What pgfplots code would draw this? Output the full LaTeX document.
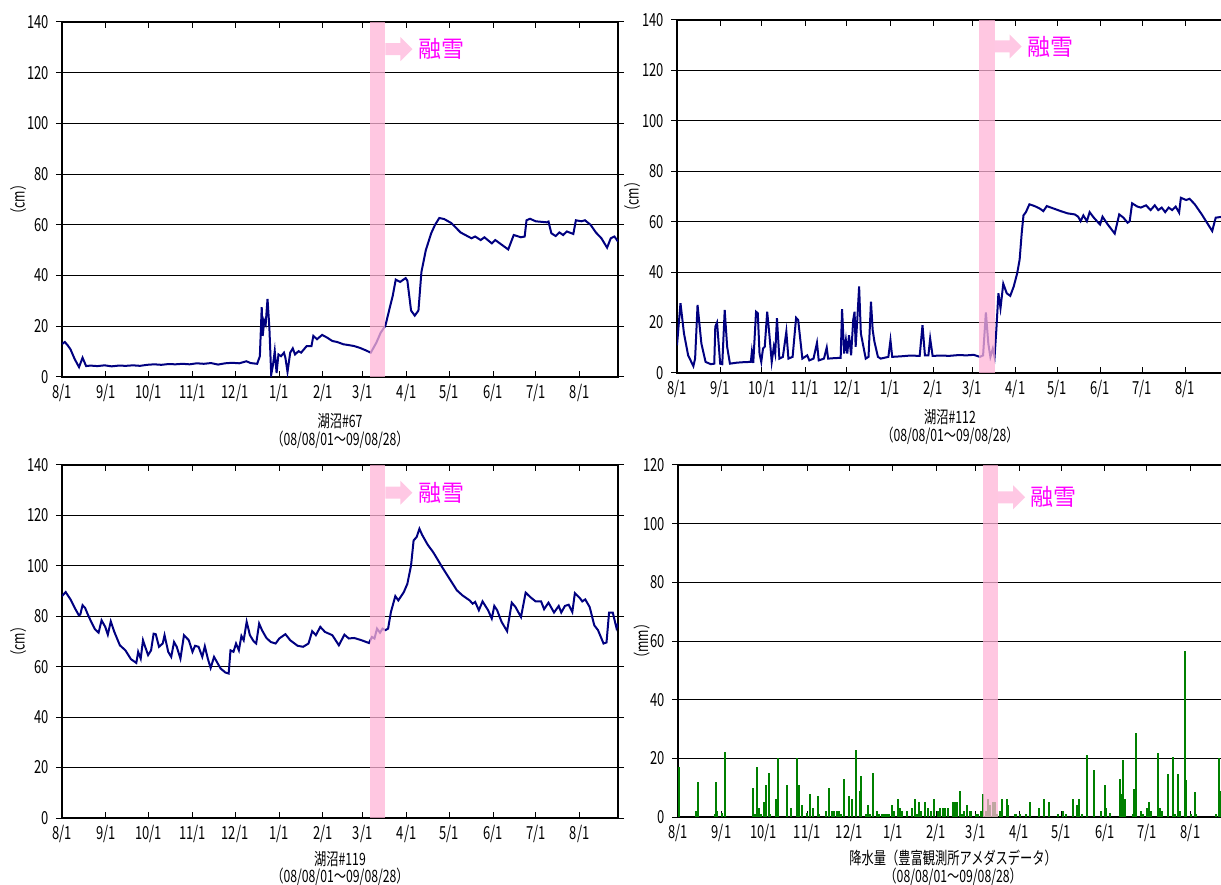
\documentclass[border=0pt]{standalone}
\usepackage{pgfplots}
\pgfplotsset{compat=1.18}
\usepackage{fontspec}
\setmainfont{Noto Sans CJK JP}
\newfontfamily\narrowjp[FakeStretch=0.72]{Noto Sans CJK JP}
\newfontfamily\jp{Noto Sans CJK JP}
\definecolor{lineblue}{RGB}{0,0,128}
\definecolor{bandpink}{RGB}{255,180,215}
\definecolor{arrowpink}{RGB}{255,200,228}
\definecolor{raingreen}{RGB}{0,128,0}
\definecolor{snowtext}{RGB}{255,0,255}

\pgfplotsset{
  panel/.style={
    scale only axis,
    xmin=0, xmax=392, ymin=0,
    xtick={0,31,61,92,122,153,184,212,243,273,304,334,365},
    xticklabels={8/1,9/1,10/1,11/1,12/1,1/1,2/1,3/1,4/1,5/1,6/1,7/1,8/1},
    ymajorgrids,
    grid style={black, line width=0.5pt},
    axis line style={black, line width=0.8pt},
    xtick align=inside, ytick align=outside,
    major tick length=3pt,
    tick style={black, line width=0.5pt},
    tick label style={font=\narrowjp\fontsize{9}{10}\selectfont},
    /pgf/number format/assume math mode=true,
    every axis y label/.style={rotate=90, anchor=center, font=\narrowjp\fontsize{8.5}{9}\selectfont},
    every axis x label/.style={at={(axis description cs:0.5,0)}, anchor=north, yshift=-14.5pt, align=center, font=\narrowjp\fontsize{8.5}{9.2}\selectfont},
  },
  lowpanel/.style={
    every axis x label/.style={at={(axis description cs:0.5,0)}, anchor=north, yshift=-13pt, align=center, font=\narrowjp\fontsize{8.5}{8.8}\selectfont},
  },
  series/.style={lineblue, line width=1pt, no marks},
  band/.style={draw=none, fill=bandpink, fill opacity=0.75, forget plot},
}

\begin{document}
\begin{tikzpicture}
\path[use as bounding box] (0,0) rectangle (610.5pt,442pt);

% ---- 湖沼#67
\begin{axis}[panel, at={(31pt,253.5pt)}, anchor=south west, width=278pt, height=177.5pt,
  ymax=140, ytick={0,20,...,140},
  ylabel={（cm）}, ylabel style={at={(axis description cs:-0.079,0.5)}},
  xlabel={湖沼\#67\\（08/08/01～09/08/28）}]
\addplot[series] coordinates {
(0,13) (2,13.8) (4,12.5) (6,10.9) (9,7) (12,3.9) (14.5,7.6) (17,4.3)
(20,4.5) (25,4.3) (30,4.6) (35,4.2) (40,4.5) (45,4.4) (50,4.6) (55,4.4)
(60,4.8) (65,5.0) (70,4.8) (75,5.1) (80,5.0) (85,5.2) (90,5.0) (95,5.4)
(100,5.2) (105,5.5) (110,4.9) (115,5.4) (120,5.6) (125,5.4) (130,6.2) (133,5.5)
(137.6,5.2) (139.5,8.2) (140.8,27.5) (141.5,16.2) (142.6,22.2) (143.6,20.8)
(144.9,30.8) (146.2,19.5) (147.5,0.9) (148.8,4.9) (150,10.2) (151.3,1.6)
(152.6,8.9) (154.4,8.2) (156.5,9.6) (157.5,7.6) (159,2.0) (160.9,9.6)
(162.7,11.3) (164.3,8.9) (166.8,10.2) (168.6,9.6) (172.5,12.2) (175.9,12.2)
(177.2,16.2) (179.8,14.9) (183.4,16.6) (187,15.5) (190.6,14.2) (194,13.8)
(198.4,12.9) (202,12.6) (206,12.2) (210,11.5) (213.8,10.6) (217.7,9.6)
(221.6,13.5) (224.7,17.5) (228,20.2) (230.6,26.2) (233.2,32.1) (235.3,38.4)
(238.4,37.5) (242.3,39.0) (243.5,38) (246.1,26.2) (248.7,24.2) (251.3,26.2)
(253.4,41.4) (256.5,50) (260.3,56.7) (263,60) (266,62.7) (269.4,62.3)
(274.5,60.7) (281,57) (288.7,54.7) (291.3,55.4) (295.2,54) (297.8,55.1)
(303,52.7) (305.5,54) (314.6,50.3) (318.5,56) (323.6,55.1) (326.2,55.4)
(327.5,61.8) (330,62.4) (334,61.4) (341.7,61) (343,61.3) (345,56.7)
(348,55.6) (350.7,57) (353.3,56) (355.9,57.4) (360.5,56.4) (362.3,61.8)
(366.2,61.4) (368.7,61.8) (372.7,60) (376.4,57) (380.3,54.7) (384.3,51)
(386.9,54.7) (389.5,55.4) (392,53.4)};
\addplot[band] coordinates {(217,140) (228,140)} \closedcycle;
\fill[arrowpink] (axis cs:228,129.3) ++(0,3pt) -- ++(7.5pt,0) -- ++(0,3pt) -- ++(6pt,-6pt) -- ++(-6pt,-6pt) -- ++(0,3pt) -- ++(-7.5pt,0) -- cycle;
\node[text=snowtext, font=\jp\fontsize{11.5}{12}\selectfont, anchor=west, inner sep=0pt] at (axis cs:251,129.3) {融雪};
\end{axis}

% ---- 湖沼#112
\begin{axis}[panel, at={(338.5pt,255.5pt)}, anchor=south west, width=273pt, height=176.5pt,
  ymax=140, ytick={0,20,...,140},
  ylabel={（cm）}, ylabel style={at={(axis description cs:-0.082,0.5)}},
  xlabel={湖沼\#112\\（08/08/01～09/08/28）}]
\addplot[series] coordinates {
(0,11) (2.5,27.7) (5,15.7) (8,7) (11.75,2.7) (13,5.7) (14.75,27) (17.5,11.7)
(20.5,4.4) (24.25,3.5) (26.75,3.7) (27.5,18.4) (28.75,20) (31,3.7) (32.5,3.5)
(34.25,25) (36,10.4) (38,3.7) (43,4.1) (48,4.3) (53,4.4) (53.75,8.4) (54.75,4)
(56.75,24.3) (58,23.7) (59.25,7.7) (60.5,4.4) (61.75,9.7) (63,10.4) (64.75,24.3)
(66.25,15.7) (68,4.4) (69.5,10.4) (70.5,7.7) (71.75,21.7) (73.5,5.7) (76,6.4)
(78.5,16.4) (80,5.7) (83,6.4) (85.5,21.9) (87,21) (90,5.7) (93.5,7) (95,5)
(98,5.7) (100.5,12) (101.75,5) (105.5,5.7) (107.5,10.1) (108.5,5.7) (113,5.9)
(117.5,6) (118.5,25.3) (120,7.7) (121.25,13) (122.25,7.7) (123.5,15) (125,7)
(126.5,21) (127.5,24.3) (128.25,10.4) (129.5,21.7) (130.75,34.3) (132,15.7)
(135.5,5.7) (137.5,6.4) (139.25,28.3) (140.5,17) (141.75,12.4) (144.25,6.4)
(146.25,5.7) (151.75,6.4) (153.25,13) (154.5,6.4) (160.5,6.6) (167,6.9)
(174.25,6.8) (176.25,19) (178,7) (180.5,7) (181.75,13.7) (183.5,6.8) (190,6.9)
(195.5,6.8) (202,7.1) (208,7) (213,7.2) (217.5,6.4) (219.75,7) (221.75,24)
(223.5,11.7) (225,6.4) (226.75,9.7) (228,6.4) (229.25,17) (230.75,31.6)
(232.25,25.7) (234.25,35.4) (236.75,31.6) (239.25,30.6) (241.75,34.3)
(244.25,39.6) (246,45) (247.5,55.6) (248.75,62.5) (250.5,63.8) (253,66.9)
(256.75,66.2) (260.5,65.2) (263,64.2) (265.5,66.2) (270.5,65.2) (275.5,64.2)
(280.5,63.3) (285.5,62.9) (288,62) (289.75,60.2) (291.75,62.5) (294.25,60.2)
(296.25,63.8) (299.25,61.6) (302.5,59.6) (303.75,58.9) (305.5,62) (309.25,58.9)
(314.25,55.3) (317.5,62.9) (320.5,61.6) (323.5,59.6) (325,60.2) (326.75,67.3)
(330.5,66) (333,65.6) (336.75,66.5) (340,64.6) (343,66.5) (345.5,64.6)
(348,65.6) (350.5,63.8) (353,65.6) (355.5,64.6) (358,66) (360.5,63.6)
(361.75,69.5) (365.5,68.6) (368,69.1) (371.75,66.9) (376.75,62.9) (380.5,59.6)
(384.25,56.3) (386.75,61.6) (392,62)};
\addplot[band] coordinates {(217,140) (228,140)} \closedcycle;
\fill[arrowpink] (axis cs:228,129.5) ++(0,3pt) -- ++(7.5pt,0) -- ++(0,3pt) -- ++(6pt,-6pt) -- ++(-6pt,-6pt) -- ++(0,3pt) -- ++(-7.5pt,0) -- cycle;
\node[text=snowtext, font=\jp\fontsize{11.5}{12}\selectfont, anchor=west, inner sep=0pt] at (axis cs:251,129.5) {融雪};
\end{axis}

% ---- 湖沼#119
\begin{axis}[panel, lowpanel, at={(31pt,33pt)}, anchor=south west, width=278pt, height=176.5pt,
  ymax=140, ytick={0,20,...,140},
  ylabel={（cm）}, ylabel style={at={(axis description cs:-0.079,0.5)}},
  xlabel={湖沼\#119\\（08/08/01～09/08/28）}]
\addplot[series] coordinates {
(0,88) (2.6,89.6) (6,86.7) (9.3,83) (11.9,80.4) (12.9,80.7) (14.5,84.4)
(16.3,83.3) (18,81) (20.1,78.4) (23.2,74.9) (25.8,73.5) (27.9,78.4) (30.5,75.8)
(32.3,72.7) (34.4,78) (36.9,73.8) (40.8,68.5) (44.7,66.5) (48.6,63) (52.4,61.5)
(53.7,65.9) (55.5,63.2) (57.1,70.5) (58.9,67.5) (60.7,64.6) (62.8,66.5)
(64.6,73.1) (66.1,72.9) (68.4,67.9) (71,69.2) (72.3,72.5) (74.9,65.9) (77,63.9)
(79,69.8) (80.9,67.9) (83.5,63.2) (86,72.5) (89.4,70.5) (92,65.9) (93.8,68.3)
(96.3,67.9) (98.9,63.9) (100.7,68.1) (102.8,63.2) (104.8,59.5) (107.2,63.9)
(109.2,61.9) (111.8,59.3) (115.2,57.7) (117.5,57.3) (118.8,66.5) (120.9,65.9)
(122.7,69.2) (124.7,66.5) (126.5,72.2) (128.1,70.5) (130.2,77.8) (132.5,72.5)
(135.1,70.1) (136.9,69.2) (139,77.1) (141,74.5) (144.1,71.4) (147.2,69.8)
(150.6,69.2) (153.2,71.2) (157.5,72.9) (160.9,70.5) (166.1,68.3) (170,67.9)
(173.8,69.2) (176.4,74.1) (179,72.5) (182.1,75.8) (185.4,73.8) (190.6,72.5)
(195.2,68.5) (199.1,72.7) (202.2,71.2) (206,71.4) (211.2,70.5) (216.4,69.4)
(218.5,71.8) (220.3,71.2) (222.1,75.1) (224.2,73.5) (226,75.1) (228,74.5)
(229.9,75.1) (231.9,81.7) (235,88) (237.1,86.3) (241,89.6) (243.5,92.9)
(246.1,100.2) (247.9,110.1) (250,111.4) (252,114.7) (253.9,112.3) (257.8,108.4)
(261.6,105.5) (264.2,103.1) (268,99.5) (273.2,94.9) (278.4,90.3) (282.3,88.3)
(287.4,86.3) (289.5,85) (291.3,85.7) (293.9,82.4) (296.5,85.9) (300.4,82.4)
(303,79.1) (304.8,84.1) (306.8,82.4) (309.9,77.8) (313.8,74.1) (317.1,85.4)
(319.7,83.7) (323.6,79.7) (326.9,89.4) (330,87.7) (333.9,85.9) (337.8,85.9)
(339.9,82.8) (343,85.4) (346.9,81.5) (350.2,84.1) (352,81.5) (354.6,84.1)
(357.2,84.6) (359.8,81.7) (361.6,89.2) (365,87.3) (366.8,85.9) (368.9,86.7)
(372,83.7) (375.3,76.4) (377.9,74.5) (381.8,69.2) (383.9,69.6) (385.7,81.5)
(388.3,81.5) (390.9,75.4) (392,77.1)};
\addplot[band] coordinates {(217,140) (228,140)} \closedcycle;
\fill[arrowpink] (axis cs:228,129) ++(0,3pt) -- ++(7.5pt,0) -- ++(0,3pt) -- ++(6pt,-6pt) -- ++(-6pt,-6pt) -- ++(0,3pt) -- ++(-7.5pt,0) -- cycle;
\node[text=snowtext, font=\jp\fontsize{11.5}{12}\selectfont, anchor=west, inner sep=0pt] at (axis cs:251,129) {融雪};
\end{axis}

% ---- 降水量
\begin{axis}[panel, lowpanel, at={(339pt,33.5pt)}, anchor=south west, width=275.2pt, height=176pt,
  ymax=120, ytick={0,20,...,120},
  ylabel={（mm）}, ylabel style={at={(axis description cs:-0.066,0.5)}},
  xlabel={降水量（豊富観測所アメダスデータ）\\（08/08/01～09/08/28）}]
\addplot[ycomb, raingreen, line width=1pt, no marks] coordinates {
(1,17) (13,2) (14,12) (26,1) (27,12) (28,2) (31,1.5) (33.5,22)
(53.5,10) (55,1) (56.5,17) (57.5,3) (59,1) (61.5,5) (63,11) (64.5,15) (65.5,1)
(69.5,6) (71.5,20) (77.5,11) (80.5,3) (84.5,20) (86.5,11) (88.5,4) (92,1.5)
(94,8) (96,3) (99.5,7) (100.5,1) (105.5,2) (107.5,10) (109.5,2) (111,2)
(113,2) (115,2) (116,1) (118.5,13) (121.5,7) (124,6) (126.5,23) (129.5,9)
(130.5,14) (134,1) (135.5,4) (137,1) (139,15) (141.5,2) (143.5,1) (145,1)
(146,1) (147,1) (148,1) (149,1) (150,1) (152.5,4) (154,2) (157,6) (158,3)
(159.5,2) (163,2) (167,3) (169,6) (170,1) (171.5,5) (173,2) (176,5) (178,3)
(180,2) (182,6) (185,2) (186.5,3) (188.5,3) (190.5,3) (192.5,3) (195.5,5)
(197,5) (199,5) (200.5,9) (202,1) (203.5,2) (205.5,4) (208,2) (209,2)
(212,1) (214,1) (215.5,2) (217.5,8) (219,2) (221,6) (222.5,4) (224.5,5)
(226,5) (227.5,1) (229,2) (231,6) (234,6) (235,4) (240,1) (241,1) (243.5,1)
(247.5,1) (250.5,5) (257,3) (260.5,6) (264.5,5) (270.5,1) (274,2) (276,1)
(281.5,6) (284,4) (285.5,6) (287.5,1) (291,21) (296,16) (301,2) (304,11)
(305,3) (308,1.5) (314.5,13) (316,8) (317,19.5) (318,6) (324,1) (325,9.5)
(326.5,28.5) (330,2) (331,1) (334,3) (335.5,5) (337,2) (342,21.7) (343.5,3)
(345,2) (349,14.5) (352.5,20.6) (354,1) (356,14.5) (357.5,2) (361,56.6)
(362,12.6) (365.5,1) (368,8.6) (369,1) (383.5,1) (385,20) (386.5,9)};
\addplot[band] coordinates {(217,120) (228,120)} \closedcycle;
\fill[arrowpink] (axis cs:228,109) ++(0,3pt) -- ++(7.5pt,0) -- ++(0,3pt) -- ++(6pt,-6pt) -- ++(-6pt,-6pt) -- ++(0,3pt) -- ++(-7.5pt,0) -- cycle;
\node[text=snowtext, font=\jp\fontsize{11.5}{12}\selectfont, anchor=west, inner sep=0pt] at (axis cs:251,109) {融雪};
\end{axis}
\end{tikzpicture}
\end{document}
